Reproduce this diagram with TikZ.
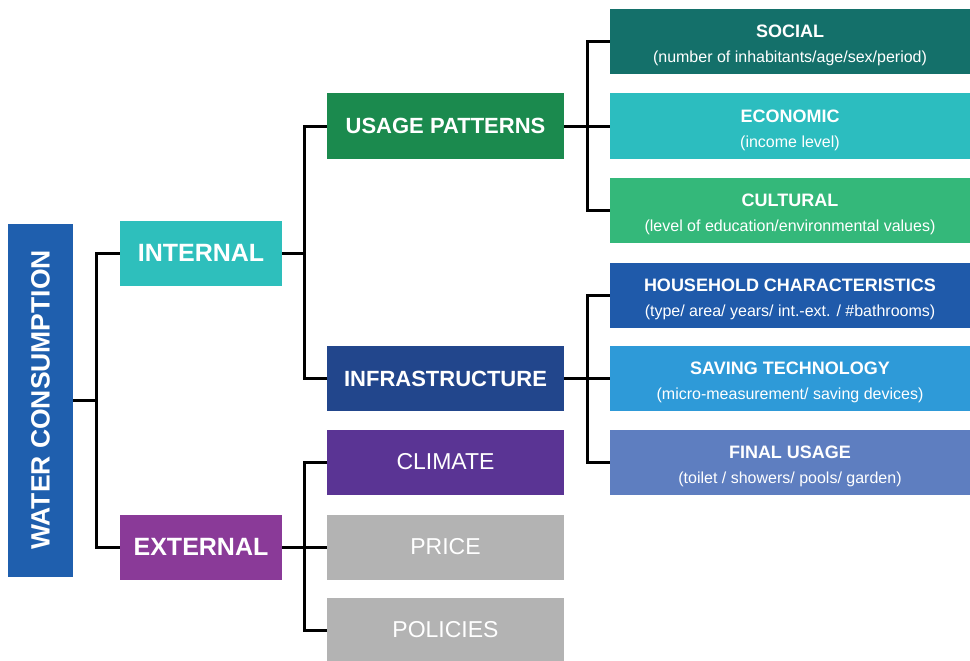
\documentclass[tikz,border=0pt]{standalone}
\usepackage{fontspec}
\setmainfont{Liberation Sans}
\definecolor{cWC}{HTML}{1F5FAE}
\definecolor{cInt}{HTML}{2EBFBC}
\definecolor{cExt}{HTML}{8A3A98}
\definecolor{cUse}{HTML}{1B8A4E}
\definecolor{cInf}{HTML}{22468C}
\definecolor{cCli}{HTML}{5A3494}
\definecolor{cGray}{HTML}{B3B3B3}
\definecolor{cSoc}{HTML}{14706A}
\definecolor{cEco}{HTML}{2CBDBF}
\definecolor{cCul}{HTML}{34B87A}
\definecolor{cHou}{HTML}{1F5AAA}
\definecolor{cSav}{HTML}{2E9AD8}
\definecolor{cFin}{HTML}{5E7EC0}
\begin{document}
\begin{tikzpicture}[x=1pt,y=-1pt,
  box/.style={rectangle,inner sep=0pt,text=white,anchor=center},
  midbox/.style={box,minimum width=162pt,minimum height=65pt,font=\fontsize{25}{30}\selectfont\bfseries},
  catbox/.style={box,minimum width=237pt,minimum height=65pt,font=\fontsize{22}{27}\selectfont\bfseries},
  catboxr/.style={box,minimum width=237pt,minimum height=65pt,font=\fontsize{23}{28}\selectfont},
  rbox/.style={box,minimum width=360pt,minimum height=65pt},
  rtxt/.style={inner sep=0pt,text=white,align=center,font=\fontsize{18}{25}\selectfont},
  link/.style={line width=3pt,line join=miter,draw=black}]
\useasboundingbox (0,0) rectangle (970,661);
\node[box,fill=cWC,minimum width=65pt,minimum height=353pt] (wc) at (40.5,400) {};
\node[text=white,rotate=90,font=\fontsize{26.5}{30}\selectfont\bfseries] (wct) at (wc.center) {WATER CONSUMPTION};
\node[midbox,fill=cInt] (internal) at (201,253) {INTERNAL};
\node[midbox,fill=cExt] (external) at (201,547) {EXTERNAL};
\node[catbox,fill=cUse] (usage) at (445.5,126) {USAGE PATTERNS};
\node[catbox,fill=cInf] (infra) at (445.5,378.5) {INFRASTRUCTURE};
\node[catboxr,fill=cCli] (climate) at (445.5,462) {CLIMATE};
\node[catboxr,fill=cGray] (price) at (445.5,547) {PRICE};
\node[catboxr,fill=cGray] (policies) at (445.5,630) {POLICIES};
\newcommand{\rtext}[2]{{\fontsize{18}{25}\selectfont\bfseries #1}\\{\fontsize{16}{25}\selectfont #2}}
\node[rbox,fill=cSoc] (social) at (790,41.5) {};
\node[rbox,fill=cEco] (economic) at (790,126) {};
\node[rbox,fill=cCul] (cultural) at (790,210.5) {};
\node[rbox,fill=cHou] (household) at (790,295) {};
\node[rbox,fill=cSav] (saving) at (790,378.5) {};
\node[rbox,fill=cFin] (final) at (790,462) {};
\node[rtxt] (socialt) at ([yshift=-4pt]social.center) {\rtext{SOCIAL}{(number of inhabitants/age/sex/period)}};
\node[rtxt] (economict) at ([yshift=-4pt]economic.center) {\rtext{ECONOMIC}{(income level)}};
\node[rtxt] (culturalt) at ([yshift=-4pt]cultural.center) {\rtext{CULTURAL}{(level of education/environmental values)}};
\node[rtxt] (householdt) at ([yshift=-4pt]household.center) {\rtext{HOUSEHOLD CHARACTERISTICS}{(type/ area/ years/ int.-ext. / \#bathrooms)}};
\node[rtxt] (savingt) at ([yshift=-4pt]saving.center) {\rtext{SAVING TECHNOLOGY}{(micro-measurement/ saving devices)}};
\node[rtxt] (finalt) at ([yshift=-4pt]final.center) {\rtext{FINAL USAGE}{(toilet / showers/ pools/ garden)}};
\coordinate (j1) at (96,400);
\coordinate (j2) at (304,253);
\coordinate (j3) at (587,126);
\coordinate (j4) at (587,378.5);
\coordinate (j5) at (304,547);
\draw[link] (wc.east) -- (j1);
\draw[link] (internal.west) -| (j1) |- (external.west);
\draw[link] (internal.east) -- (j2);
\draw[link] (usage.west) -| (j2) |- (infra.west);
\draw[link] (usage.east) -- (economic.west);
\draw[link] (social.west) -| (j3) |- (cultural.west);
\draw[link] (infra.east) -- (saving.west);
\draw[link] (household.west) -| (j4) |- (final.west);
\draw[link] (external.east) -- (price.west);
\draw[link] (climate.west) -| (j5) |- (policies.west);
\end{tikzpicture}
\end{document}
